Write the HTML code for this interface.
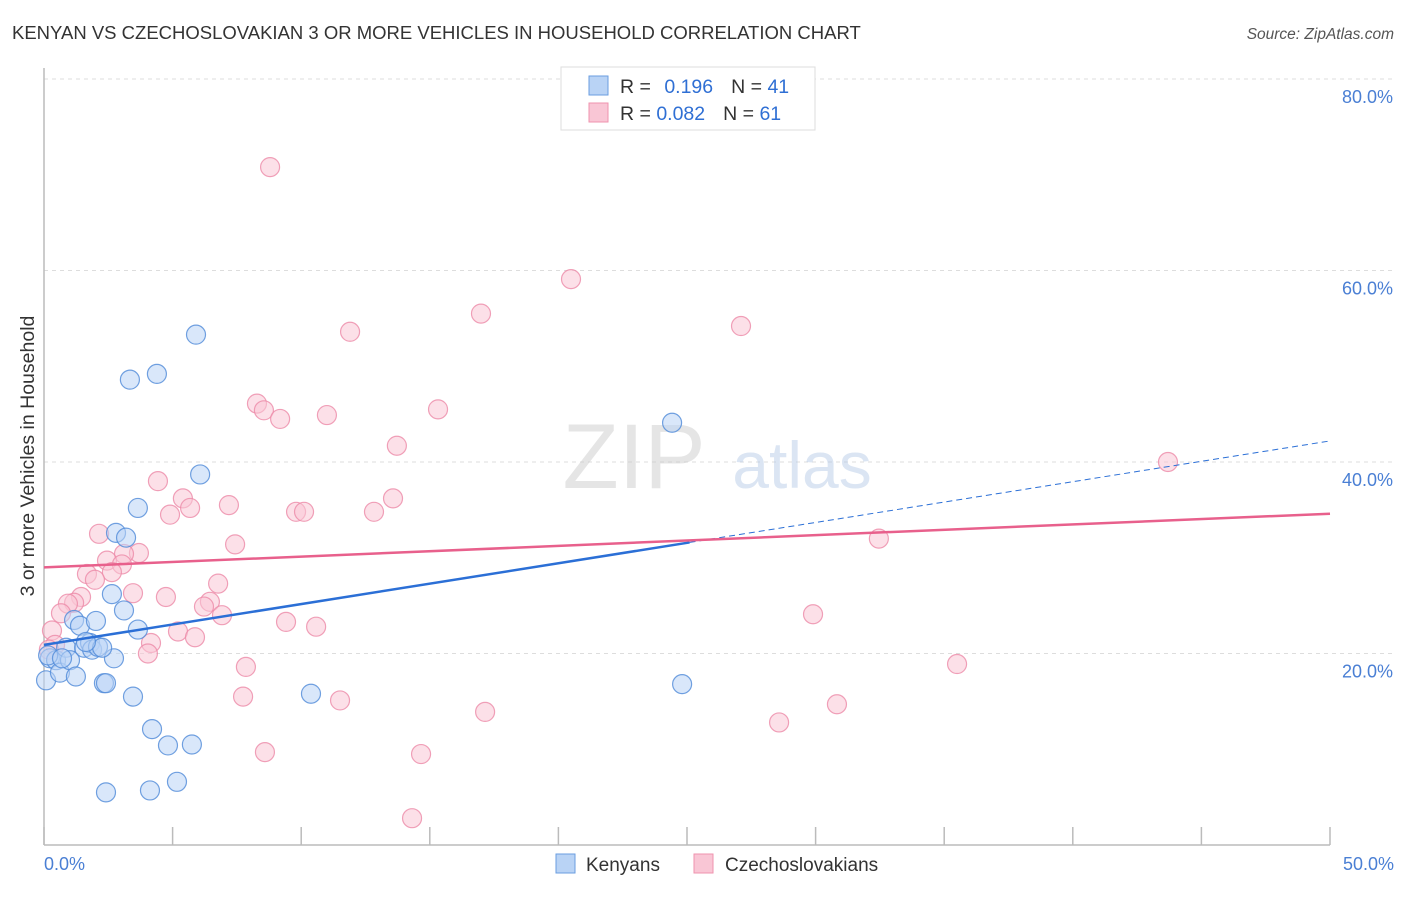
<!DOCTYPE html>
<html><head><meta charset="utf-8"><style>
body{margin:0;background:#fff;font-family:"Liberation Sans",sans-serif;}
svg text{font-family:"Liberation Sans",sans-serif;}
</style></head><body>
<svg id="chart" width="1406" height="892" viewBox="0 0 1406 892" xmlns="http://www.w3.org/2000/svg">
<text x="12" y="39" font-size="18.5" fill="#333">KENYAN VS CZECHOSLOVAKIAN 3 OR MORE VEHICLES IN HOUSEHOLD CORRELATION CHART</text>
<text x="1394" y="39" font-size="15.5" fill="#555" text-anchor="end" font-style="italic">Source: ZipAtlas.com</text>
<g id="grid"></g>
<g opacity="0.5">
<text x="634" y="488" font-size="92" fill="#ccc" text-anchor="middle" font-family="Liberation Serif">ZIP</text>
<text x="802" y="488" font-size="66" fill="#b8cde8" text-anchor="middle">atlas</text>
</g>
<line x1="44" y1="68" x2="44" y2="845" stroke="#bbb" stroke-width="1.5"/>
<line x1="44" y1="845" x2="1330" y2="845" stroke="#bbb" stroke-width="1.5"/>
<g id="ticks"></g>
<g id="ylabels"></g>
<text x="44" y="870" font-size="18" fill="#4a7fd4">0.0%</text>
<text x="1394" y="870" font-size="18" fill="#4a7fd4" text-anchor="end">50.0%</text>
<text transform="translate(34,456) rotate(-90)" font-size="19.5" fill="#333" text-anchor="middle">3 or more Vehicles in Household</text>
<g id="pink"></g>
<g id="blue"></g>
<g id="trends"></g>
<g>
<rect x="561" y="67" width="254" height="63" fill="#fff" stroke="#ddd"/>
<rect x="589" y="76" width="19" height="19" fill="#b9d3f5" stroke="#6a9ee0"/>
<rect x="589" y="103" width="19" height="19" fill="#f9c6d5" stroke="#ef93ae"/>
<text x="620" y="93" font-size="19.5" fill="#333">R = <tspan fill="#2f6fd4" dx="8">0.196</tspan><tspan dx="18">N = </tspan><tspan fill="#2f6fd4">41</tspan></text>
<text x="620" y="120" font-size="19.5" fill="#333">R = <tspan fill="#2f6fd4">0.082</tspan><tspan dx="18">N = </tspan><tspan fill="#2f6fd4">61</tspan></text>
</g>
<g>
<rect x="556" y="854" width="19" height="19" fill="#b9d3f5" stroke="#6a9ee0"/>
<text x="586" y="871" font-size="19" fill="#333">Kenyans</text>
<rect x="694" y="854" width="19" height="19" fill="#f9c6d5" stroke="#ef93ae"/>
<text x="725" y="871" font-size="19" fill="#333">Czechoslovakians</text>
</g>
</svg>
<script>
const blueX=[0.08,0.23,0.47,0.62,0.86,1.01,1.24,1.17,1.40,1.56,1.79,1.87,2.02,2.10,2.33,2.41,2.64,2.72,2.80,3.11,3.19,3.34,3.46,3.65,3.65,4.20,4.39,4.82,4.12,2.41,5.17,5.75,5.91,6.07,10.38,24.42,24.81,0.16,0.70,2.26,1.63];
const blueY=[17.2,19.5,19.3,18.0,20.6,19.3,17.6,23.5,22.9,20.6,21.1,20.4,23.4,20.7,16.9,16.9,26.2,19.5,32.6,24.5,32.1,48.6,15.5,22.5,35.2,12.1,49.2,10.4,5.7,5.5,6.6,10.5,53.3,38.7,15.8,44.1,16.8,19.8,19.5,20.6,21.2];
const pinkX=[8.79,20.49,16.99,11.90,27.10,8.28,8.55,9.18,11.00,15.32,13.72,43.70,4.43,5.40,5.68,4.90,7.19,9.80,10.11,12.83,13.57,2.14,7.43,3.69,3.11,2.45,3.03,2.64,1.67,1.98,6.77,3.46,4.74,1.44,1.17,0.93,0.66,6.45,6.22,6.92,5.21,5.87,0.31,9.41,10.58,4.16,4.04,0.43,0.19,7.85,7.74,11.51,17.15,8.59,14.66,14.31,28.58,30.83,35.50,29.90,32.46];
const pinkY=[70.8,59.1,55.5,53.6,54.2,46.1,45.4,44.5,44.9,45.5,41.7,40.0,38.0,36.2,35.2,34.5,35.5,34.8,34.8,34.8,36.2,32.5,31.4,30.5,30.4,29.7,29.3,28.5,28.3,27.7,27.3,26.3,25.9,25.9,25.3,25.2,24.2,25.4,24.9,24.0,22.3,21.7,22.4,23.3,22.8,21.1,20.0,20.9,20.4,18.6,15.5,15.1,13.9,9.7,9.5,2.8,12.8,14.7,18.9,24.1,32.0];
const yTicks=[20,40,60,80];
const yTickLabels=["20.0%","40.0%","60.0%","80.0%"];
const xTicks=[0,5,10,15,20,25,30,35,40,45,50];
const blueTrend=[20.9,31.6,42.2];
const blueSolidEnd=25.1;
const pinkTrend=[29.0,34.6];
const NS="http://www.w3.org/2000/svg";
const sx=v=>44+v*25.72, sy=v=>845-v*9.575;
function mk(t,a,p){const e=document.createElementNS(NS,t);for(const k in a)e.setAttribute(k,a[k]);p.appendChild(e);return e;}
const grid=document.getElementById('grid'),yl=document.getElementById('ylabels'),tk=document.getElementById('ticks');
yTicks.forEach((v,i)=>{
 const l=mk('line',{x1:44,x2:1394,y1:sy(v),y2:sy(v),stroke:'#ddd','stroke-dasharray':'4,4'},grid);
 
 
 const t=mk('text',{x:1393,y:sy(v)+24,'font-size':18,fill:'#4a7fd4','text-anchor':'end'},yl);
 t.textContent=yTickLabels[i];
 
 
});
xTicks.forEach(v=>{
 const l=mk('line',{x1:sx(v),x2:sx(v),y1:827,y2:845,stroke:'#bbb','stroke-width':1.5},tk);
 
 
});
function pts(X,Y,g,fill,stroke){X.forEach((x,i)=>{
 const c=mk('circle',{cx:sx(x),cy:sy(Y[i]),r:9.5,fill:fill,'fill-opacity':0.55,stroke:stroke,'stroke-opacity':0.8,'stroke-width':1.2},g);
 
 
});}
pts(pinkX,pinkY,document.getElementById('pink'),'#f9c6d5','#ec8aa8');
pts(blueX,blueY,document.getElementById('blue'),'#b9d3f5','#4f8ad8');
const tr=document.getElementById('trends');
const b1=mk('line',{x1:sx(0),y1:sy(blueTrend[0]),x2:sx(blueSolidEnd),y2:sy(blueTrend[1]),stroke:'#2b6fd6','stroke-width':2.5},tr);


const b2=mk('line',{x1:sx(blueSolidEnd),y1:sy(blueTrend[1]),x2:sx(50),y2:sy(blueTrend[2]),stroke:'#2b6fd6','stroke-width':1,'stroke-dasharray':'6,4'},tr);


const p1=mk('line',{x1:sx(0),y1:sy(pinkTrend[0]),x2:sx(50),y2:sy(pinkTrend[1]),stroke:'#e8608c','stroke-width':2.5},tr);


</script>
</body></html>
